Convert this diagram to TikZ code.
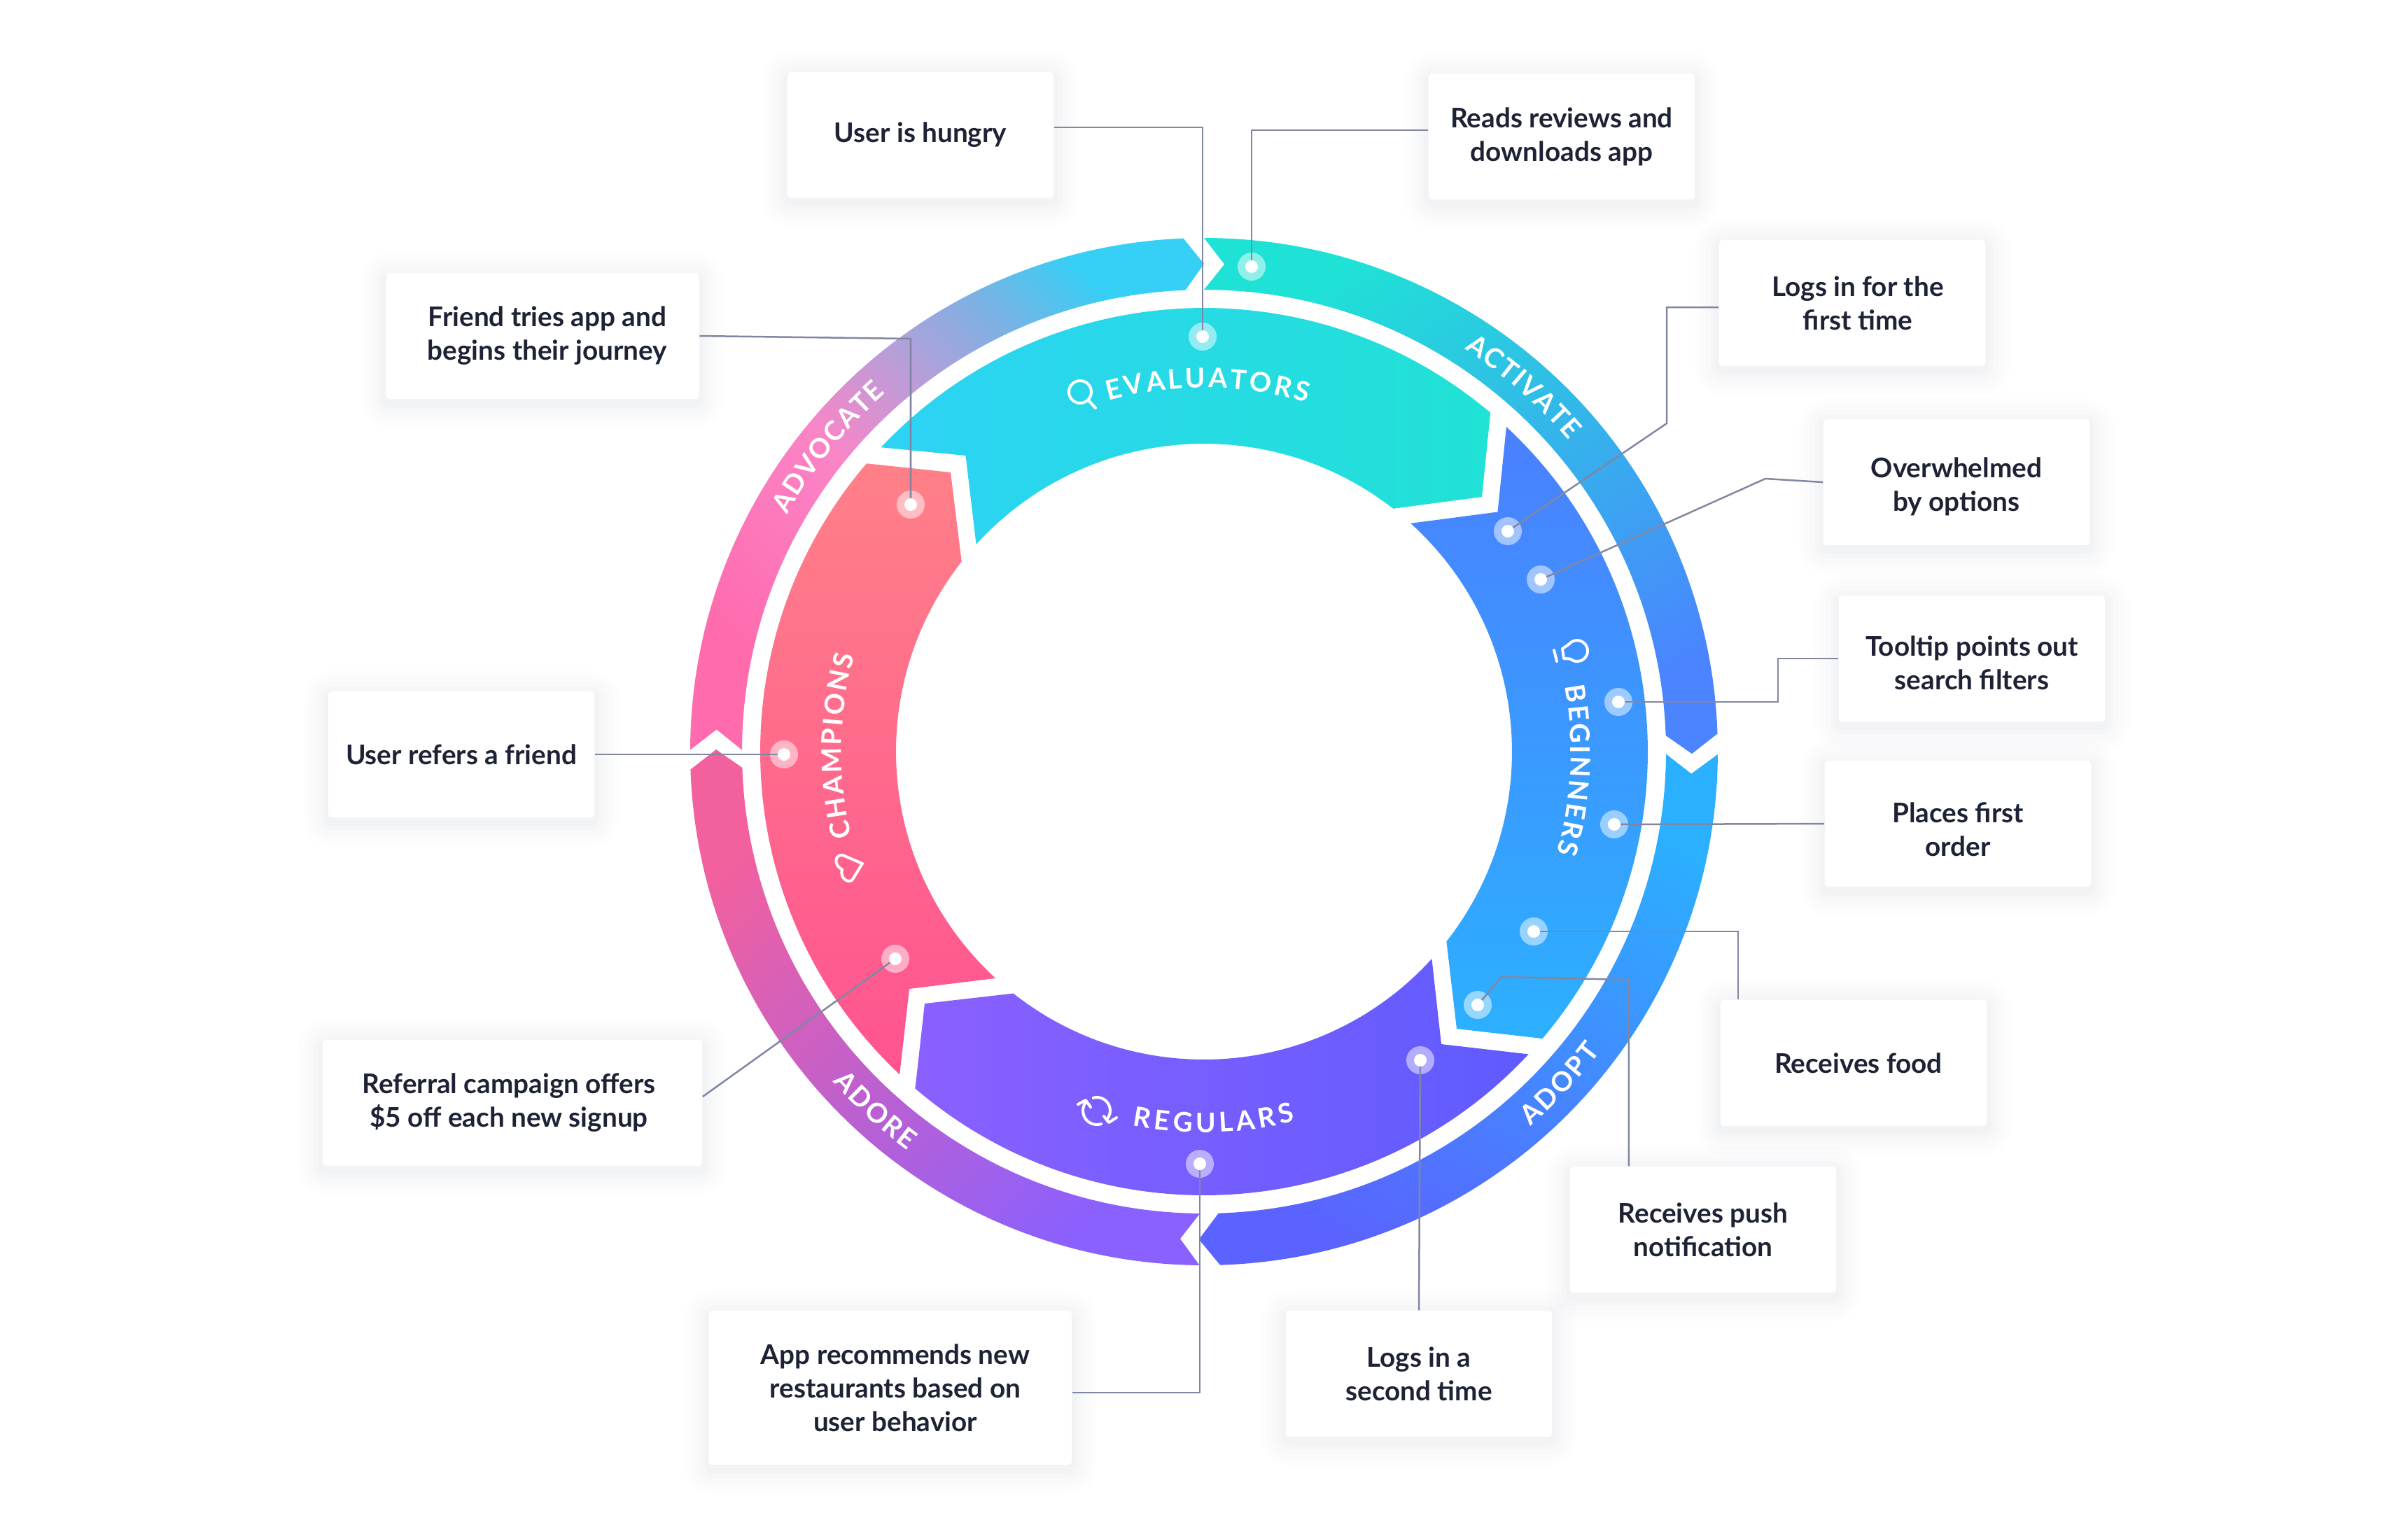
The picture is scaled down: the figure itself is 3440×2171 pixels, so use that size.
\documentclass[tikz,border=0pt]{standalone}
\usepackage{fontspec}
\setmainfont{Lato}
\usetikzlibrary{calc}
\usetikzlibrary{decorations.text}

\definecolor{inkblack}{HTML}{1E2235}
\definecolor{wirecol}{HTML}{8187A3}
\definecolor{shadowcol}{HTML}{5A6080}
\pgfdeclarehorizontalshading{advocatefill}{100bp}{rgb(0bp)=(1,.42,.68); rgb(25bp)=(1,.42,.68); rgb(45bp)=(.98,.52,.78); rgb(56bp)=(.72,.62,.85); rgb(65bp)=(.50,.69,.89); rgb(75bp)=(.21,.81,.96); rgb(100bp)=(.21,.81,.96)}

\tikzset{
    x=0.01cm, y=0.01cm,
    stepbox/.style={rectangle, rounded corners=0.05cm, fill=white, minimum width=3.80cm, minimum height=1.80cm,
        inner sep=0pt, align=center, font=\bfseries\fontsize{11}{13.7}\selectfont, text=inkblack,
        preaction={draw=shadowcol, line width=0.70cm, opacity=0.010, line join=round, transform canvas={yshift=-0.06cm}},
        preaction={draw=shadowcol, line width=0.55cm, opacity=0.012, line join=round, transform canvas={yshift=-0.06cm}},
        preaction={draw=shadowcol, line width=0.40cm, opacity=0.014, line join=round, transform canvas={yshift=-0.06cm}},
        preaction={draw=shadowcol, line width=0.25cm, opacity=0.018, line join=round, transform canvas={yshift=-0.06cm}},
        preaction={draw=shadowcol, line width=0.12cm, opacity=0.020, line join=round, transform canvas={yshift=-0.06cm}}},
    dotmark/.style={circle, inner sep=0pt, minimum size=0.40cm, fill=white, fill opacity=0.5},
    wire/.style={draw=wirecol, line width=0.025cm},
    ringtext/.style={decorate, decoration={text along path, text align=center, text={|\bfseries\fontsize{11}{13}\selectfont\color{white}|#1}}},
    icon/.style={draw=white, line width=0.04cm, line cap=round, line join=round},
}

\begin{document}
\begin{tikzpicture}
    \useasboundingbox (-1720,-1097) rectangle (1720,1074);

    % outer ring
    \shade[top color={rgb,255:red,31;green,226;blue,214}, middle color={rgb,255:red,48;green,179;blue,235}, bottom color={rgb,255:red,74;green,133;blue,255}, shading angle=30]
        (90:734) arc[start angle=90, end angle=2, radius=734] -- (-0.25:697) -- (2:660) arc[start angle=2, end angle=90, radius=660] -- (87.6:697) -- cycle;
    \shade[top color={rgb,255:red,43;green,176;blue,255}, bottom color={rgb,255:red,90;green,99;blue,255}, shading angle=-30]
        (-0.3:734) arc[start angle=-0.3, end angle=-88.2, radius=734] -- (-90.6:697) -- (-88.2:660) arc[start angle=-88.2, end angle=-0.3, radius=660] -- (-2.6:697) -- cycle;
    \shade[top color={rgb,255:red,242;green,96;blue,158}, middle color={rgb,255:red,190;green,92;blue,198}, bottom color={rgb,255:red,138;green,96;blue,255}, shading angle=45]
        (269.5:734) arc[start angle=269.5, end angle=182, radius=734] -- (179.75:697) -- (182:660) arc[start angle=182, end angle=269.5, radius=660] -- (267.2:697) -- cycle;
    \shade[shading=advocatefill, shading angle=45]
        (179.8:734) arc[start angle=179.8, end angle=92.3, radius=734] -- (90:697) -- (92.3:660) arc[start angle=92.3, end angle=179.8, radius=660] -- (177.4:697) -- cycle;

    % inner ring
    \shade[left color={rgb,255:red,45;green,210;blue,245}, right color={rgb,255:red,32;green,226;blue,213}]
        (136.7:634) -- (-340.5,423) -- (137.7:440) arc[start angle=137.7, end angle=52.1, radius=440] -- (397,364) -- (49.8:634) arc[start angle=49.8, end angle=136.7, radius=634] -- cycle;
    \shade[top color={rgb,255:red,74;green,128;blue,255}, bottom color={rgb,255:red,44;green,176;blue,255}]
        (47.05:634) -- (419.5,342.5) -- (47.85:440) arc[start angle=47.85, end angle=-38.07, radius=440] -- (361,-396) -- (-40.3:634) arc[start angle=-40.3, end angle=47.05, radius=634] -- cycle;
    \shade[left color={rgb,255:red,138;green,96;blue,255}, right color={rgb,255:red,95;green,91;blue,255}]
        (-43:634) -- (339,-418) -- (-42.3:440) arc[start angle=-42.3, end angle=-128.25, radius=440] -- (-399,-360) -- (-130.6:634) arc[start angle=-130.6, end angle=-43, radius=634] -- cycle;
    \shade[top color={rgb,255:red,255;green,128;blue,136}, bottom color={rgb,255:red,255;green,83;blue,144}]
        (226.7:634) -- (-421,-339) -- (227.4:440) arc[start angle=227.4, end angle=141.9, radius=440] -- (-362,399) -- (139.5:634) arc[start angle=139.5, end angle=226.7, radius=634] -- cycle;

    % ring labels
    \path[ringtext=A{\kern.5pt}C{\kern.5pt}T{\kern.5pt}I{\kern.5pt}V{\kern.5pt}A{\kern.5pt}T{\kern.5pt}E] (78.8:685) arc[start angle=78.8, end angle=18.8, radius=685];
    \path[ringtext=A{\kern.5pt}D{\kern.5pt}V{\kern.5pt}O{\kern.5pt}C{\kern.5pt}A{\kern.5pt}T{\kern.5pt}E] (171:685) arc[start angle=171, end angle=111, radius=685];
    \path[ringtext=A{\kern.8pt}D{\kern.8pt}O{\kern.8pt}P{\kern.8pt}T] (-73:710) arc[start angle=-73, end angle=-13, radius=710];
    \path[ringtext=A{\kern.8pt}D{\kern.8pt}O{\kern.8pt}R{\kern.8pt}E] (197.5:710) arc[start angle=197.5, end angle=257.5, radius=710];
    \path[ringtext=E{\kern1.1pt}V{\kern1.1pt}A{\kern1.1pt}L{\kern1.1pt}U{\kern1.1pt}A{\kern1.1pt}T{\kern1.1pt}O{\kern1.1pt}R{\kern1.1pt}S] (119.4:520) arc[start angle=119.4, end angle=59.4, radius=520];
    \path[ringtext=B{\kern.9pt}E{\kern.9pt}G{\kern.9pt}I{\kern.9pt}N{\kern.9pt}N{\kern.9pt}E{\kern.9pt}R{\kern.9pt}S] (27.1:524) arc[start angle=27.1, end angle=-32.9, radius=524];
    \path[ringtext=R{\kern1.5pt}E{\kern1.5pt}G{\kern1.5pt}U{\kern1.5pt}L{\kern1.5pt}A{\kern1.5pt}R{\kern1.5pt}S] (-118.5:544) arc[start angle=-118.5, end angle=-58.5, radius=544];
    \path[ringtext=C{\kern.9pt}H{\kern.9pt}A{\kern.9pt}M{\kern.9pt}P{\kern.9pt}I{\kern.9pt}O{\kern.9pt}N{\kern.9pt}S] (209.1:518) arc[start angle=209.1, end angle=149.1, radius=518];

    % icons
    \draw[icon] (-177,514) circle (16);
    \draw[icon] (-165,502) -- (-155,491);
    \draw[icon] (512,147) -- (521.5,153.6) arc[start angle=140, end angle=-130, radius=15] -- (514,133) -- cycle;
    \draw[icon] (500,145) -- (504,129);
    \draw[icon] (-488,-160) -- (-516,-148) .. controls (-527,-146) and (-530,-162) .. (-517,-168.5) .. controls (-520,-178) and (-512,-188) .. (-503,-184) -- cycle;
    \draw[icon] ([shift={(-72:20)}]-153,-513) arc[start angle=-72, end angle=-220, radius=20];
    \draw[icon] ([shift={(106:19)}]-153,-513) arc[start angle=106, end angle=-42, radius=19];
    \draw[icon] (-180,-504) -- (-169,-498) -- (-162,-508);
    \draw[icon] (-143,-521) -- (-136,-530) -- (-125,-523);

    % callouts
    \node[stepbox] (hungry) at (-405,881) {User is hungry};
    \node[stepbox] (reviews) at (511,879) {Reads reviews and\\downloads app};
    \node[stepbox] (firsttime) at (926,641) {\hspace*{0.16cm}Logs in for the\\\hspace*{0.16cm}first time};
    \node[stepbox] (options) at (1075,385) {\rule{0pt}{0.41cm}Overwhelmed\\by options};
    \node[stepbox] (tooltip) at (1097,133) {\rule{0pt}{0.41cm}Tooltip points out\\search filters};
    \node[stepbox] (order) at (1077,-103) {\rule{0pt}{0.46cm}Places first\\order};
    \node[stepbox] (food) at (928,-445) {\hspace*{0.14cm}Receives food};
    \node[stepbox] (push) at (713,-683) {Receives push\\notification};
    \node[stepbox] (second) at (307,-889) {Logs in a\\second time};
    \node[stepbox, minimum width=5.18cm, minimum height=2.20cm] (recommend) at (-448,-909) {\hspace*{0.14cm}App recommends new\\\hspace*{0.14cm}restaurants based on\\\hspace*{0.14cm}user behavior};
    \node[stepbox, minimum width=5.42cm] (referral) at (-988,-502) {Referral campaign offers\hspace*{0.10cm}\\\$5 off each new signup\hspace*{0.10cm}};
    \node[stepbox] (refers) at (-1061,-4) {User refers a friend};
    \node[stepbox, minimum width=4.47cm] (friend) at (-945,594) {\hspace*{0.14cm}Friend tries app and\\\hspace*{0.14cm}begins their journey};

    % markers
    \node[dotmark] (dhungry) at (-2,593) {};
    \node[dotmark] (dreviews) at (68,693) {};
    \node[dotmark] (dfirst) at (434,315) {};
    \node[dotmark] (doptions) at (481,246) {};
    \node[dotmark] (dtooltip) at (592,71) {};
    \node[dotmark] (dorder) at (586,-104) {};
    \node[dotmark] (dfood) at (471,-257) {};
    \node[dotmark] (dpush) at (391,-362) {};
    \node[dotmark] (dsecond) at (309,-441) {};
    \node[dotmark] (drecommend) at (-6,-589) {};
    \node[dotmark] (dreferral) at (-441,-296) {};
    \node[dotmark] (drefers) at (-600,-4) {};
    \node[dotmark] (dfriend) at (-419,353) {};

    % connectors
    \draw[wire] ([yshift=0.11cm]hungry.east) -| (dhungry.center);
    \draw[wire] ([yshift=0.09cm]reviews.west) -| (dreviews.center);
    \draw[wire] ([yshift=-0.06cm]firsttime.west) -| (661,469) -- (dfirst.center);
    \draw[wire] (options.west) -- (802,390) -- (doptions.center);
    \draw[wire] (tooltip.west) -| (820,71) -- (dtooltip.center);
    \draw[wire] (dorder.center) -- (order.west);
    \draw[wire] (dfood.center) -| ([xshift=-1.65cm]food.north);
    \draw[wire] (dpush.center) -- (425,-322) -- (607,-326) -- ([xshift=-1.06cm]push.north);
    \draw[wire] (dsecond.center) -- (second.north);
    \draw[wire] (drecommend.center) |- ([yshift=-0.07cm]recommend.east);
    \draw[wire] (dreferral.center) -- ([yshift=0.09cm]referral.east);
    \draw[wire] (drefers.center) -- (refers.east);
    \draw[wire] (dfriend.center) -- (-419,590) -- (friend.east);

    % white centres on top of the connectors
    \foreach \mark in {dhungry,dreviews,dfirst,doptions,dtooltip,dorder,dfood,dpush,dsecond,drecommend,dreferral,drefers,dfriend}
        \fill[white] (\mark) circle (9);
\end{tikzpicture}
\end{document}
